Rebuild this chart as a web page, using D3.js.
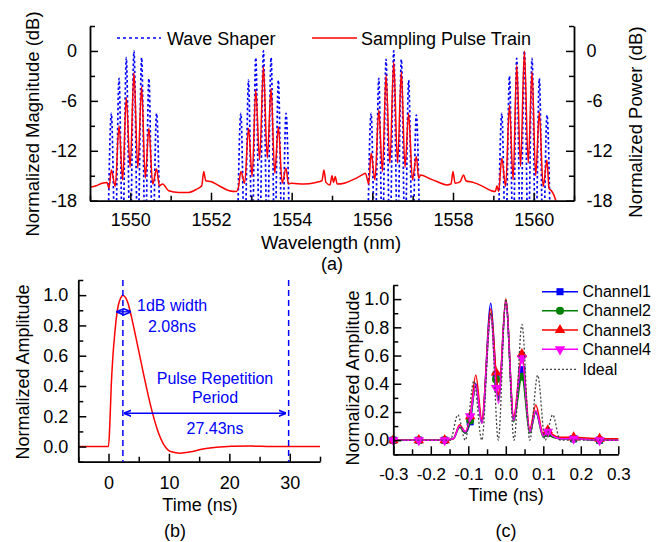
<!DOCTYPE html>
<html><head><meta charset="utf-8">
<script src="https://cdn.jsdelivr.net/npm/d3@7"></script>
<style>body{margin:0;background:#fff} text{font-family:"Liberation Sans",Arial,sans-serif}</style>
</head><body><svg id="c" width="665" height="542"></svg>
<script>
// ---------------- DATA ----------------
// Panel (a)
const aXMajor = [1550,1552,1554,1556,1558,1560];
const aXMinor = [1549,1551,1553,1555,1557,1559,1561];
const aYMajor = [0,-6,-12,-18];
const aYMinor = [3,-3,-9,-15];
const waveShaperG1 = [[1549.44,-24],[1549.53,-7.5],[1549.625,-24],[1549.72,-3.3],[1549.81,-24],[1549.90,-0.8],[1549.995,-24],[1550.09,0],[1550.185,-24],[1550.28,-0.8],[1550.37,-24],[1550.46,-3.3],[1550.555,-24],[1550.65,-7.5],[1550.74,-24]];
const waveShaperG2 = [[1552.65,-24],[1552.74,-7.5],[1552.835,-24],[1552.93,-3.5],[1553.02,-24],[1553.11,-0.8],[1553.205,-24],[1553.30,0],[1553.395,-24],[1553.49,-0.8],[1553.58,-24],[1553.67,-3.5],[1553.765,-24],[1553.86,-7.5],[1553.95,-24]];
const waveShaperG3 = [[1555.88,-24],[1555.97,-7.5],[1556.065,-24],[1556.16,-3.3],[1556.25,-24],[1556.34,-1.0],[1556.435,-24],[1556.53,0],[1556.625,-24],[1556.72,-1.0],[1556.81,-24],[1556.90,-3.5],[1556.995,-24],[1557.09,-7.7],[1557.18,-24]];
const waveShaperG4 = [[1559.12,-24],[1559.21,-7.5],[1559.305,-24],[1559.40,-3.0],[1559.49,-24],[1559.58,-0.9],[1559.675,-24],[1559.77,0],[1559.865,-24],[1559.96,-0.9],[1560.05,-24],[1560.14,-3.3],[1560.235,-24],[1560.33,-7.7],[1560.42,-24]];
const samplingPulseTrain = [
 [1549.00,-16.4],[1549.15,-16.2],[1549.30,-15.9],[1549.42,-15.8],[1549.47,-16.5],
 [1549.53,-14.3],[1549.625,-16.3],[1549.72,-9.0],[1549.81,-15.5],[1549.90,-5.6],[1549.995,-14.0],[1550.09,-2.6],[1550.185,-14.1],[1550.28,-4.3],[1550.37,-15.3],[1550.46,-9.3],[1550.555,-16.0],[1550.65,-14.2],
 [1550.72,-16.2],[1550.80,-16.0],[1550.95,-16.8],[1551.20,-17.0],[1551.45,-17.0],[1551.65,-16.6],[1551.77,-16.2],[1551.82,-14.5],[1551.87,-15.6],[1552.00,-15.7],[1552.20,-16.2],[1552.45,-16.8],[1552.62,-16.9],[1552.68,-16.4],
 [1552.74,-14.5],[1552.835,-15.9],[1552.93,-9.3],[1553.02,-15.1],[1553.11,-4.7],[1553.205,-13.1],[1553.30,-1.9],[1553.395,-12.9],[1553.49,-4.5],[1553.58,-14.7],[1553.67,-9.1],[1553.765,-15.9],[1553.86,-14.1],
 [1553.92,-16.0],[1554.00,-15.9],[1554.30,-16.0],[1554.60,-15.8],[1554.75,-15.6],[1554.80,-14.3],[1554.85,-15.8],[1554.95,-16.1],[1555.00,-15.0],[1555.04,-15.8],[1555.08,-15.1],[1555.13,-16.0],[1555.30,-15.9],[1555.55,-15.4],[1555.75,-14.9],[1555.83,-14.7],[1555.91,-16.0],
 [1555.97,-12.3],[1556.065,-15.5],[1556.16,-7.1],[1556.25,-14.5],[1556.34,-2.9],[1556.435,-13.5],[1556.53,-1.3],[1556.625,-13.5],[1556.72,-2.5],[1556.81,-14.0],[1556.90,-7.5],[1556.995,-15.5],[1557.09,-12.7],
 [1557.15,-15.3],[1557.20,-14.9],[1557.40,-15.3],[1557.60,-15.7],[1557.85,-16.1],[1557.95,-16.0],[1558.00,-14.5],[1558.05,-15.9],[1558.18,-15.7],[1558.26,-14.9],[1558.32,-15.6],[1558.50,-15.8],[1558.75,-16.3],[1558.95,-16.8],[1559.05,-16.9],[1559.09,-16.2],[1559.13,-16.9],
 [1559.21,-12.9],[1559.305,-16.3],[1559.40,-6.5],[1559.49,-15.5],[1559.58,-1.7],[1559.675,-13.9],[1559.77,0],[1559.865,-13.5],[1559.96,-2.5],[1560.05,-15.0],[1560.14,-7.3],[1560.235,-16.3],[1560.33,-13.1],
 [1560.38,-16.5],[1560.44,-16.8],[1560.50,-17.3],[1560.55,-18]
];

// Panel (b)
const bXMajor = [0,10,20,30];
const bXMinor = [-5,5,15,25,35];
const bYMajor = [0,0.2,0.4,0.6,0.8,1.0];
const bYMinor = [-0.1,0.1,0.3,0.5,0.7,0.9,1.1];
const bTime = [-5,0,0.2,0.45,0.7,1.0,1.3,1.6,2.0,2.38,2.8,3.2,3.6,4.0,4.85,5.9,7.0,8.1,9.2,10.3,11.9,13.6,15.2,17.5,20.3,23.6,27,35];
const bAmp  = [0,0,0.13,0.4,0.58,0.73,0.85,0.93,0.98,1.0,0.985,0.95,0.89,0.82,0.66,0.46,0.265,0.11,0.01,-0.033,-0.044,-0.035,-0.02,-0.007,0.002,0.003,0,0];
const bPeakTime = 2.38;
const bPeriod = 27.43;
const bWidth1dB = 2.08;

// Panel (c)
const cXMajor = [-0.3,-0.2,-0.1,0,0.1,0.2,0.3];
const cXMinor = [-0.25,-0.15,-0.05,0.05,0.15,0.25];
const cYMajor = [0,0.2,0.4,0.6,0.8,1.0];
const cYMinor = [-0.1,0.1,0.3,0.5,0.7,0.9,1.1];
const cTime = [-0.3,-0.232,-0.163,-0.14,-0.123,-0.108,-0.095,-0.08,-0.064,-0.04,-0.026,-0.019,0.0,0.021,0.043,0.064,0.08,0.1,0.112,0.125,0.145,0.181,0.25,0.3];
const channel1 = [0,0,0,0.01,0.1,0.05,0.13,0.4,0.13,0.97,0.46,0.3,0.99,0.15,0.5,0.06,0.2,0.03,0.05,0.03,0.01,0.01,0,0];
const channel2 = [0,0,0,0.01,0.09,0.05,0.14,0.38,0.12,0.9,0.43,0.28,0.98,0.13,0.45,0.05,0.2,0.02,0.05,0.02,0.01,0.01,0,0];
const channel3 = [0,0,0,0.01,0.11,0.06,0.17,0.46,0.15,0.93,0.48,0.32,1.0,0.17,0.61,0.08,0.25,0.04,0.07,0.04,0.02,0.02,0.01,0.01];
const channel4 = [0,0,0,0.01,0.1,0.06,0.17,0.39,0.12,0.89,0.37,0.26,0.98,0.14,0.58,0.06,0.21,0.03,0.06,0.03,0.01,0.01,0,0];
const cMarkerTimes = [-0.3,-0.232,-0.163,-0.095,-0.026,0.043,0.112,0.181,0.25];
const idealTime = [-0.3,-0.16,-0.148,-0.128,-0.108,-0.085,-0.064,-0.04,-0.02,0.0,0.022,0.043,0.064,0.085,0.105,0.125,0.145,0.16,0.3];
const idealAmp  = [0,0,0,0.18,0,0.42,0,0.9,0,1.0,0,0.82,0,0.46,0,0.18,0,0,0];
const channelNames = ["Channel1","Channel2","Channel3","Channel4"];

// ---------------- DRAW ----------------
const svg = d3.select("#c");
const FONT = '"Liberation Sans",Arial,sans-serif';

function drawAxis(axisFn, scale, pos, majors, minors, fmt, pad, fs) {
  const g = svg.append("g").attr("transform", pos);
  g.call(axisFn(scale).tickValues(majors).tickSizeInner(-8).tickSizeOuter(0).tickPadding(pad).tickFormat(fmt));
  g.selectAll("text").attr("font-size", fs).attr("font-family", FONT).attr("fill", "#000");
  g.select(".domain").attr("stroke", "#000").attr("stroke-width", 1.8);
  g.selectAll(".tick line").attr("stroke", "#000").attr("stroke-width", 1.5);
  const m = svg.append("g").attr("transform", pos);
  m.call(axisFn(scale).tickValues(minors).tickSizeInner(-5).tickSizeOuter(0).tickFormat(""));
  m.select(".domain").remove();
  m.selectAll(".tick line").attr("stroke", "#000").attr("stroke-width", 1.5);
  return g;
}
function label(x, y, txt, fs, opts = {}) {
  const t = svg.append("text").attr("x", x).attr("y", y).attr("dy", "0.35em")
    .attr("font-size", fs).attr("font-family", FONT).attr("text-anchor", opts.anchor || "middle")
    .attr("fill", opts.fill || "#000").text(txt);
  if (opts.rot) t.attr("transform", `rotate(${opts.rot},${x},${y})`);
  return t;
}

// ===== Panel (a)
const ax = d3.scaleLinear().domain([1549, 1561]).range([90, 574]);
const ay = d3.scaleLinear().domain([-18, 3]).range([200.7, 26]);
svg.append("clipPath").attr("id", "clipA").append("rect")
  .attr("x", 90).attr("y", 26).attr("width", 484).attr("height", 174.7);
const lineA = d3.line().x(d => ax(d[0])).y(d => ay(d[1])).curve(d3.curveMonotoneX);
const gA = svg.append("g").attr("clip-path", "url(#clipA)");
[waveShaperG1, waveShaperG2, waveShaperG3, waveShaperG4].forEach(grp => {
  gA.append("path").attr("d", lineA(grp)).attr("fill", "none")
    .attr("stroke", "#0000ff").attr("stroke-width", 1.7).attr("stroke-dasharray", "2.5,2.5");
});
gA.append("path").attr("d", lineA(samplingPulseTrain)).attr("fill", "none")
  .attr("stroke", "#ff0000").attr("stroke-width", 1.5);

const intFmt = d => String(d);
drawAxis(d3.axisBottom, ax, "translate(0,200.7)", aXMajor, aXMinor, intFmt, 13, 18);
drawAxis(d3.axisLeft, ay, "translate(90,0)", aYMajor, aYMinor, intFmt, 13, 18);
drawAxis(d3.axisRight, ay, "translate(574,0)", aYMajor, aYMinor, intFmt, 12.5, 18);
label(33, 124, "Normalized Magnitude (dB)", 18.5, {rot: -90});
label(636, 122, "Normalized Power (dB)", 18.5, {rot: -90});
label(331, 243, "Wavelength (nm)", 18.5);
label(332, 264, "(a)", 18);
// legend (a)
svg.append("line").attr("x1", 117).attr("x2", 161).attr("y1", 38).attr("y2", 38)
  .attr("stroke", "#0000ff").attr("stroke-width", 1.7).attr("stroke-dasharray", "3,3");
label(167, 38.5, "Wave Shaper", 18, {anchor: "start"});
svg.append("line").attr("x1", 312).attr("x2", 357).attr("y1", 38).attr("y2", 38)
  .attr("stroke", "#ff0000").attr("stroke-width", 1.5);
label(361, 38.5, "Sampling Pulse Train", 18, {anchor: "start"});

// ===== Panel (b)
const bx = d3.scaleLinear().domain([-5, 35]).range([78.3, 320]);
const by = d3.scaleLinear().domain([-0.1, 1.1]).range([461.7, 280]);
const lineB = d3.line().x((d, i) => bx(bTime[i])).y(d => by(d)).curve(d3.curveMonotoneX);
svg.append("path").attr("d", lineB(bAmp)).attr("fill", "none").attr("stroke", "#ff0000").attr("stroke-width", 1.5);
const f1 = d => d.toFixed(1);
drawAxis(d3.axisBottom, bx, "translate(0,461.7)", bXMajor, bXMinor, intFmt, 15, 18);
drawAxis(d3.axisLeft, by, "translate(78.3,0)", bYMajor, bYMinor, f1, 10, 18);
[bPeakTime, bPeakTime + bPeriod].forEach(t => {
  svg.append("line").attr("x1", bx(t)).attr("x2", bx(t)).attr("y1", 280).attr("y2", 461.7)
    .attr("stroke", "#0000ff").attr("stroke-width", 1.5).attr("stroke-dasharray", "6,4");
});
const defs = svg.append("defs");
defs.append("marker").attr("id", "arr").attr("viewBox", "0 0 10 10").attr("refX", 9).attr("refY", 5)
  .attr("markerWidth", 6).attr("markerHeight", 6).attr("orient", "auto-start-reverse")
  .append("path").attr("d", "M0,1 L10,5 L0,9").attr("fill", "none").attr("stroke", "#0000ff").attr("stroke-width", 2);
function arrow(t0, t1, a) {
  svg.append("line").attr("x1", bx(t0)).attr("x2", bx(t1)).attr("y1", by(a)).attr("y2", by(a))
    .attr("stroke", "#0000ff").attr("stroke-width", 1.3)
    .attr("marker-start", "url(#arr)").attr("marker-end", "url(#arr)");
}
arrow(bPeakTime - 0.95, bPeakTime + 1.25, 0.89);
arrow(bPeakTime + 0.25, bPeakTime + bPeriod - 0.5, 0.22);
label(137, 305, "1dB width", 16, {anchor: "start", fill: "#0000ff"});
label(172, 326, bWidth1dB.toFixed(2) + "ns", 16, {fill: "#0000ff"});
label(215, 378, "Pulse Repetition", 16, {fill: "#0000ff"});
label(215, 397, "Period", 16, {fill: "#0000ff"});
label(215, 428, bPeriod.toFixed(2) + "ns", 16, {fill: "#0000ff"});
label(23, 372, "Normalized Amplitude", 18, {rot: -90});
label(200, 505, "Time (ns)", 18);
label(175, 531, "(b)", 18);

// ===== Panel (c)
const cx = d3.scaleLinear().domain([-0.3, 0.3]).range([393.3, 618.3]);
const cy = d3.scaleLinear().domain([-0.1, 1.1]).range([454.3, 285]);
const chColors = ["#0000ff", "#008000", "#ff0000", "#ff00ff"];
const chSymbols = [d3.symbolSquare, d3.symbolCircle, d3.symbolTriangle, d3.symbolTriangle];
const chSizes = [50, 50, 48, 48];
const chRot = [0, 0, 0, 180];
const chData = [channel1, channel2, channel3, channel4];
const lineC = d3.line().x((d, i) => cx(cTime[i])).y(d => cy(d)).curve(d3.curveMonotoneX);
chData.forEach((vals, k) => {
  svg.append("path").attr("d", lineC(vals)).attr("fill", "none").attr("stroke", chColors[k]).attr("stroke-width", 1.5);
  cMarkerTimes.forEach(t => {
    const i = cTime.indexOf(t);
    svg.append("path").attr("d", d3.symbol().type(chSymbols[k]).size(chSizes[k])())
      .attr("transform", `translate(${cx(t)},${cy(vals[i])}) rotate(${chRot[k]})`)
      .attr("fill", chColors[k]);
  });
});
const lineI = d3.line().x((d, i) => cx(idealTime[i])).y(d => cy(d)).curve(d3.curveMonotoneX);
svg.append("path").attr("d", lineI(idealAmp)).attr("fill", "none").attr("stroke", "#444")
  .attr("stroke-width", 1.3).attr("stroke-dasharray", "2,2");
drawAxis(d3.axisBottom, cx, "translate(0,454.3)", cXMajor, cXMinor, f1, 14, 17);
drawAxis(d3.axisLeft, cy, "translate(393.3,0)", cYMajor, cYMinor, f1, 4, 18);
label(353, 378, "Normalized Amplitude", 18, {rot: -90});
label(506, 495, "Time (ns)", 18);
label(506, 531, "(c)", 18);
// legend (c)
const legY = [291.7, 310.7, 330, 349.3];
channelNames.forEach((nm, k) => {
  svg.append("line").attr("x1", 542).attr("x2", 578).attr("y1", legY[k]).attr("y2", legY[k])
    .attr("stroke", chColors[k]).attr("stroke-width", 1.5);
  svg.append("path").attr("d", d3.symbol().type(chSymbols[k]).size(chSizes[k])())
    .attr("transform", `translate(560,${legY[k]}) rotate(${chRot[k]})`).attr("fill", chColors[k]);
  label(582.5, legY[k], nm, 16, {anchor: "start"});
});
svg.append("line").attr("x1", 542).attr("x2", 578).attr("y1", 369.3).attr("y2", 369.3)
  .attr("stroke", "#444").attr("stroke-width", 1.3).attr("stroke-dasharray", "2,2");
label(582.5, 369.3, "Ideal", 16, {anchor: "start"});
</script></body></html>
